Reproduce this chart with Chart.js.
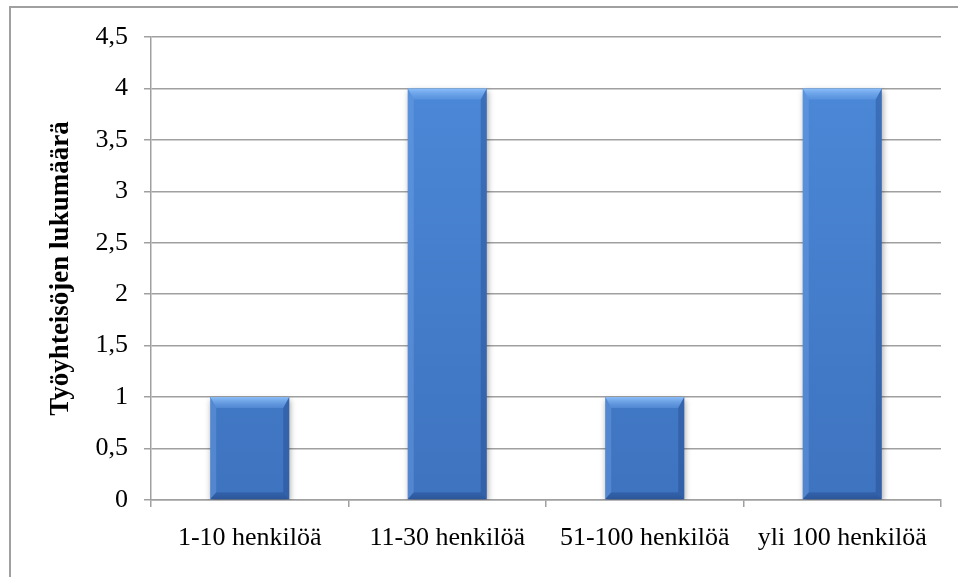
<!DOCTYPE html>
<html>
<head>
<meta charset="utf-8">
<script src="https://cdn.jsdelivr.net/npm/chart.js@4"></script>
<style>
  html, body { margin: 0; padding: 0; background: #fff; }
  #wrap { position: relative; width: 958px; height: 577px; }
  canvas { display: block; }
</style>
</head>
<body>
<div id="wrap"><canvas id="c" width="958" height="577"></canvas></div>
<script>
const categories = ['1-10 henkilöä', '11-30 henkilöä', '51-100 henkilöä', 'yli 100 henkilöä'];
const counts = [1, 4, 1, 4];
const yAxisTitle = 'Työyhteisöjen lukumäärä';
const yMin = 0, yMax = 4.5, yStep = 0.5;

const FONT = "'Liberation Serif', 'Times New Roman', serif";

const framePlugin = {
  id: 'frame',
  beforeDraw(chart) {
    const ctx = chart.ctx;
    ctx.save();
    ctx.fillStyle = '#fff';
    ctx.fillRect(0, 0, chart.width, chart.height);
    ctx.strokeStyle = '#a0a0a0';
    ctx.lineWidth = 2;
    ctx.strokeRect(10, 7, chart.width + 20, chart.height + 20);
    ctx.restore();
  }
};

const bevelPlugin = {
  id: 'bevel',
  beforeDatasetsDraw(chart) {
    const ctx = chart.ctx;
    ctx.save();
    ctx.shadowColor = 'rgba(0,0,0,0.35)';
    ctx.shadowBlur = 6;
    ctx.shadowOffsetX = 1;
    ctx.shadowOffsetY = 3;
  },
  afterDatasetsDraw(chart) {
    const ctx = chart.ctx;
    ctx.restore();
    const meta = chart.getDatasetMeta(0);
    meta.data.forEach(el => {
      const p = el.getProps(['x', 'y', 'base', 'width'], true);
      const l = p.x - p.width / 2, r = p.x + p.width / 2;
      const t = Math.min(p.y, p.base), b = Math.max(p.y, p.base);
      const bt = 11, bs = 6, bb = 7;
      ctx.save();
      let g = ctx.createLinearGradient(0, t, 0, t + bt);
      g.addColorStop(0, 'rgba(150,200,255,0.85)');
      g.addColorStop(1, 'rgba(110,165,235,0.35)');
      ctx.fillStyle = g;
      ctx.beginPath();
      ctx.moveTo(l, t); ctx.lineTo(r, t); ctx.lineTo(r - bs, t + bt); ctx.lineTo(l + bs, t + bt); ctx.closePath();
      ctx.fill();
      ctx.fillStyle = 'rgba(120,170,235,0.35)';
      ctx.beginPath();
      ctx.moveTo(l, t); ctx.lineTo(l + bs, t + bt); ctx.lineTo(l + bs, b - bb); ctx.lineTo(l, b); ctx.closePath();
      ctx.fill();
      ctx.fillStyle = 'rgba(20,50,110,0.28)';
      ctx.beginPath();
      ctx.moveTo(r, t); ctx.lineTo(r - bs, t + bt); ctx.lineTo(r - bs, b - bb); ctx.lineTo(r, b); ctx.closePath();
      ctx.fill();
      g = ctx.createLinearGradient(0, b - bb, 0, b);
      g.addColorStop(0, 'rgba(20,50,110,0.25)');
      g.addColorStop(1, 'rgba(20,50,110,0.45)');
      ctx.fillStyle = g;
      ctx.beginPath();
      ctx.moveTo(l, b); ctx.lineTo(r, b); ctx.lineTo(r - bs, b - bb); ctx.lineTo(l + bs, b - bb); ctx.closePath();
      ctx.fill();
      ctx.restore();
    });
  }
};

const chart = new Chart(document.getElementById('c'), {
  type: 'bar',
  data: {
    labels: categories,
    datasets: [{
      data: counts,
      backgroundColor(context) {
        const c = context.chart;
        const area = c.chartArea;
        if (!area) return '#4a80cc';
        const g = c.ctx.createLinearGradient(0, area.top, 0, area.bottom);
        g.addColorStop(0, '#4c8ad9');
        g.addColorStop(1, '#3e73bf');
        return g;
      },
      borderWidth: 0,
      categoryPercentage: 0.8,
      barPercentage: 0.5
    }]
  },
  options: {
    responsive: false,
    animation: false,
    devicePixelRatio: 1,
    layout: { padding: { left: 10, right: 17, top: 37, bottom: 0 } },
    plugins: { legend: { display: false }, tooltip: { enabled: false } },
    scales: {
      x: {
        afterFit(scale) { scale.height = 77; },
        grid: {
          offset: true,
          drawOnChartArea: false,
          drawTicks: true,
          tickLength: 7,
          color: '#a0a0a0',
          lineWidth: 1.5
        },
        border: { display: true, color: '#a0a0a0', width: 1.5 },
        ticks: {
          color: '#000',
          font: { family: FONT, size: 26 },
          padding: 16,
          maxRotation: 0,
          autoSkip: false
        }
      },
      y: {
        min: yMin,
        max: yMax,
        afterFit(scale) { scale.width = 141; },
        grid: {
          color: '#a0a0a0',
          lineWidth: 1.5,
          drawTicks: true,
          tickLength: 7
        },
        border: { display: true, color: '#a0a0a0', width: 1.5 },
        ticks: {
          stepSize: yStep,
          color: '#000',
          font: { family: FONT, size: 26 },
          padding: 16,
          callback: v => String(v).replace('.', ',')
        },
        title: {
          display: true,
          text: yAxisTitle,
          color: '#000',
          font: { family: FONT, size: 27, weight: 'bold' },
          padding: { top: 35, bottom: 0 }
        }
      }
    }
  },
  plugins: [framePlugin, bevelPlugin]
});
</script>
</body>
</html>
